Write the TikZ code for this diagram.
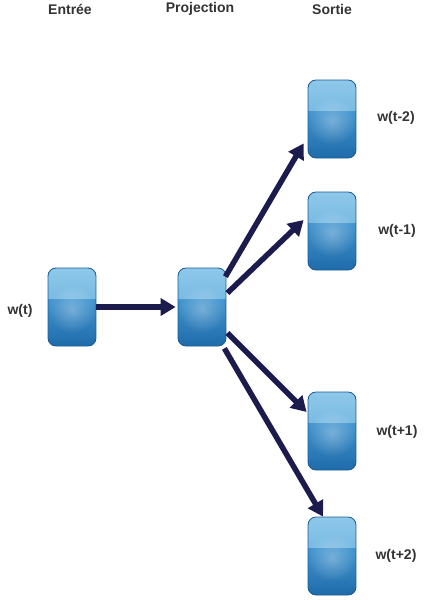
\documentclass[tikz,border=0pt]{standalone}
\usepackage{fontspec}
\setmainfont{Liberation Sans}
\usetikzlibrary{arrows.meta,fadings}
\definecolor{boxtop}{HTML}{8EC8EA}
\definecolor{boxmid}{HTML}{5BA5D7}
\definecolor{boxlow}{HTML}{4295CF}
\definecolor{boxbot}{HTML}{1F6BAA}
\definecolor{boxedge}{HTML}{1D5C94}
\definecolor{linkblue}{HTML}{1B1B4D}
\definecolor{txtgrey}{HTML}{333333}
\tikzfading[name=glowfade, inner color=transparent!0, outer color=transparent!100]
\tikzset{
  neuron/.style={draw=boxedge, line width=.8pt, rounded corners=8pt,
    minimum width=48pt, minimum height=78pt, inner sep=0pt,
    path picture={
      \fill[sharp corners, top color=boxtop, bottom color=boxmid]
        (path picture bounding box.north west) rectangle
        ([yshift=-31pt]path picture bounding box.north east);
      \fill[sharp corners, top color=boxlow, bottom color=boxbot]
        ([yshift=-31pt]path picture bounding box.north west) rectangle
        (path picture bounding box.south east);
      \fill[sharp corners, white, fill opacity=.3, path fading=glowfade]
        ([yshift=-2pt]path picture bounding box.center)
        circle [radius=24pt];
    }},
  wtext/.style={font=\bfseries\fontsize{14}{16}\selectfont, text=txtgrey},
  link/.style={line width=5.5pt, draw=linkblue,
    -{Triangle[length=15pt,width=17pt]}}
}
\begin{document}
\begin{tikzpicture}[x=1pt,y=-1pt]
  \useasboundingbox (0,0) rectangle (432,600);

  % column titles
  \node[wtext] (tin)   at (70,9)  {Entrée};
  \node[wtext] (tproj) at (200,9) {Projection};
  \node[wtext] (tout)  at (332,9) {Sortie};

  % layers
  \node[neuron] (in)   at (72,307)  {};
  \node[neuron] (proj) at (202,307) {};
  \node[neuron] (om2)  at (332,119) {};
  \node[neuron] (om1)  at (332,231) {};
  \node[neuron] (op1)  at (332,431) {};
  \node[neuron] (op2)  at (332,556) {};

  % words
  \node[wtext] (win)  at (20,311)  {w(t)};
  \node[wtext] (wm2)  at (396,118) {w(t-2)};
  \node[wtext] (wm1)  at (397,231) {w(t-1)};
  \node[wtext] (wp1)  at (397,432) {w(t+1)};
  \node[wtext] (wp2)  at (396,556) {w(t+2)};

  % connections
  \draw[link] (in.east) -- ([xshift=-2pt]proj.west);
  \draw[link] ([xshift=-1pt,yshift=-9pt]proj.north east)
           -- ([xshift=-4pt,yshift=15pt]om2.south west);
  \draw[link] ([xshift=1pt,yshift=14pt]proj.east)
           -- ([xshift=-4pt,yshift=11pt]om1.west);
  \draw[link] ([xshift=1pt,yshift=-26pt]proj.east)
           -- ([xshift=-1pt,yshift=19pt]op1.west);
  \draw[link] ([xshift=-2pt,yshift=-2pt]proj.south east)
           -- ([xshift=-9pt]op2.north);
\end{tikzpicture}
\end{document}
